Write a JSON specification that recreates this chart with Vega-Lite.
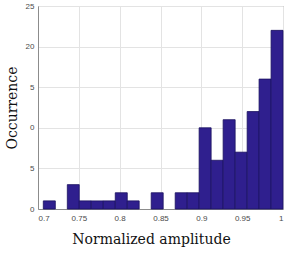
{
  "$schema": "https://vega.github.io/schema/vega-lite/v6.json",
  "width": 245,
  "height": 203,
  "autosize": {"type": "none"},
  "padding": {"left": 38, "top": 6, "right": 5, "bottom": 46},
  "background": "white",
  "config": {
    "view": {"stroke": "#8c8c8c", "strokeWidth": 1},
    "axis": {
      "domainColor": "#8c8c8c",
      "gridColor": "#e3e3e3",
      "labelColor": "#4a4a4a",
      "labelFont": "Liberation Sans",
      "labelFontSize": 8,
      "titleFont": "DejaVu Serif",
      "titleFontWeight": "normal",
      "titleFontSize": 14,
      "titleColor": "#111111",
      "ticks": false
    }
  },
  "data": {
    "values": [
      {"bin_start": 0.7065, "bin_end": 0.7212, "count": 1},
      {"bin_start": 0.7359, "bin_end": 0.7505, "count": 3},
      {"bin_start": 0.7505, "bin_end": 0.7652, "count": 1},
      {"bin_start": 0.7652, "bin_end": 0.7799, "count": 1},
      {"bin_start": 0.7799, "bin_end": 0.7946, "count": 1},
      {"bin_start": 0.7946, "bin_end": 0.8093, "count": 2},
      {"bin_start": 0.8093, "bin_end": 0.8239, "count": 1},
      {"bin_start": 0.8386, "bin_end": 0.8533, "count": 2},
      {"bin_start": 0.8680, "bin_end": 0.8827, "count": 2},
      {"bin_start": 0.8827, "bin_end": 0.8973, "count": 2},
      {"bin_start": 0.8973, "bin_end": 0.9120, "count": 10},
      {"bin_start": 0.9120, "bin_end": 0.9267, "count": 6},
      {"bin_start": 0.9267, "bin_end": 0.9414, "count": 11},
      {"bin_start": 0.9414, "bin_end": 0.9561, "count": 7},
      {"bin_start": 0.9561, "bin_end": 0.9707, "count": 12},
      {"bin_start": 0.9707, "bin_end": 0.9854, "count": 16},
      {"bin_start": 0.9854, "bin_end": 1.0, "count": 22}
    ]
  },
  "mark": {"type": "bar", "fill": "#2f1f8e", "stroke": "#1b1160", "strokeWidth": 0.8},
  "encoding": {
    "x": {
      "field": "bin_start",
      "type": "quantitative",
      "scale": {"domain": [0.7, 1], "nice": false, "zero": false},
      "axis": {
        "title": "Normalized amplitude",
        "values": [0.7, 0.75, 0.8, 0.85, 0.9, 0.95, 1],
        "format": ".2~f",
        "labelPadding": 5,
        "titlePadding": 10,
        "titleX": 113
      }
    },
    "x2": {"field": "bin_end"},
    "y": {
      "field": "count",
      "type": "quantitative",
      "scale": {"domain": [0, 25], "nice": false},
      "axis": {
        "title": "Occurrence",
        "values": [0, 5, 10, 15, 20, 25],
        "labelExpr": "datum.value == 15 ? '5' : datum.value == 10 ? '0' : datum.label",
        "labelPadding": 4,
        "titlePadding": 6
      }
    },
    "y2": {"datum": 0}
  }
}
